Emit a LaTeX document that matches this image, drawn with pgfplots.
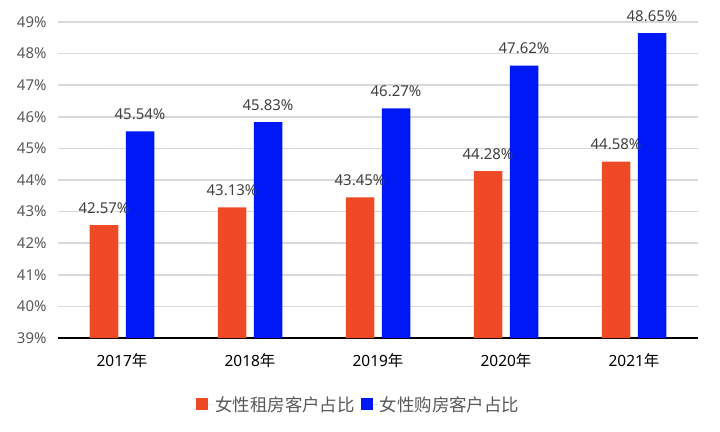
\documentclass[border=0pt]{standalone}
\usepackage{pgfplots}
\pgfplotsset{compat=1.18}
\usepackage{fontspec}
\setmainfont{Noto Sans}
\newfontfamily\cjk{Noto Sans CJK SC}
\definecolor{rentred}{RGB}{238,74,38}
\definecolor{buyblue}{RGB}{0,24,245}
\definecolor{gridgray}{RGB}{217,217,217}
\definecolor{ticktext}{RGB}{89,89,89}
\definecolor{labeltext}{RGB}{64,64,64}
\begin{document}
\begin{tikzpicture}
\begin{axis}[
    name=ax,
    scale only axis,
    width=640bp, height=316bp,
    ybar=7.5bp, bar width=28.5bp,
    xmin=-0.5, xmax=4.5,
    ymin=39, ymax=49,
    xtick=data,
    xticklabels={{2017\cjk 年},{2018\cjk 年},{2019\cjk 年},{2020\cjk 年},{2021\cjk 年}},
    ytick={39,40,...,49},
    yticklabel={\pgfmathprintnumber{\tick}\%},
    /pgf/number format/assume math mode=true,
    tick style={draw=none},
    ymajorgrids=true,
    grid style={gridgray, line width=1.5bp},
    axis x line*=bottom,
    axis y line*=left,
    y axis line style={draw=none},
    x axis line style={black, line width=1.5bp, -},
    x tick label style={font=\fontsize{15.5}{18}\selectfont, text=black, yshift=-8bp},
    y tick label style={font=\fontsize{15}{18}\selectfont, text=ticktext, xshift=-8bp},
    nodes near coords={\pgfmathprintnumber[fixed,precision=2,fixed zerofill]{\pgfplotspointmeta}\%},
    nodes near coords style={font=\fontsize{15}{18}\selectfont, text=labeltext, anchor=south, yshift=8bp},
    legend style={at={(0.47,-0.21)}, anchor=center, draw=none, legend columns=2,
        font=\fontsize{17.5}{21}\selectfont\cjk, text=ticktext,
        /tikz/every odd column/.append style={column sep=0bp},
        /tikz/every even column/.append style={column sep=4bp}},
    legend image code/.code={\fill[#1] (0bp,-6bp) rectangle (12bp,6bp); \path (0bp,0bp) -- (17bp,0bp);},
    clip=false,
]
\addplot[fill=rentred, draw=none] coordinates {(0,42.57) (1,43.13) (2,43.45) (3,44.28) (4,44.58)};
\addplot[fill=buyblue, draw=none] coordinates {(0,45.54) (1,45.83) (2,46.27) (3,47.62) (4,48.65)};
\legend{女性租房客户占比,女性购房客户占比}
\end{axis}
\path[use as bounding box] ([xshift=-58bp,yshift=-94bp]ax.south west) rectangle ([xshift=22bp,yshift=22bp]ax.north east);
\end{tikzpicture}
\end{document}
